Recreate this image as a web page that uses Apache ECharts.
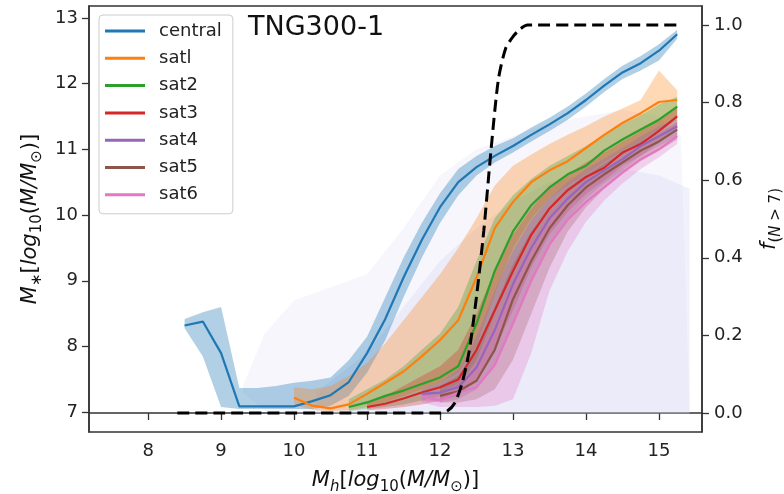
<!DOCTYPE html>
<html><head><meta charset="utf-8">
<script src="https://cdn.jsdelivr.net/npm/echarts@6/dist/echarts.min.js"></script>
<style>html,body{margin:0;padding:0;background:#fff}#c{width:784px;height:494px}</style>
</head><body><div id="c"></div>
<script>
// ---- data ----
const bins = [8.5, 8.75, 9.0, 9.25, 9.5, 9.75, 10.0, 10.25, 10.5, 10.75, 11.0, 11.25, 11.5, 11.75, 12.0, 12.25, 12.5, 12.75, 13.0, 13.25, 13.5, 13.75, 14.0, 14.25, 14.5, 14.75, 15.0, 15.25];

const central   = [8.32, 8.38, 7.9, 7.09, 7.09, 7.09, 7.09, 7.17, 7.26, 7.46, 7.9, 8.42, 9.05, 9.62, 10.12, 10.5, 10.73, 10.9, 11.05, 11.22, 11.38, 11.55, 11.75, 11.97, 12.17, 12.31, 12.5, 12.75];
const centralLo = [8.28, 7.85, 7.08, 7.05, 7.05, 7.05, 7.05, 7.05, 7.1, 7.25, 7.6, 8.1, 8.75, 9.35, 9.88, 10.3, 10.6, 10.8, 10.95, 11.12, 11.28, 11.45, 11.65, 11.87, 12.07, 12.2, 12.35, 12.68];
const centralHi = [8.42, 8.52, 8.6, 7.37, 7.37, 7.4, 7.45, 7.48, 7.53, 7.79, 8.15, 8.75, 9.35, 9.88, 10.33, 10.7, 10.9, 11.05, 11.17, 11.33, 11.48, 11.65, 11.85, 12.07, 12.27, 12.42, 12.6, 12.82];

const sat1   = [null, null, null, null, null, null, 7.22, 7.1, 7.06, 7.12, 7.28, 7.45, 7.62, 7.85, 8.1, 8.4, 9.05, 9.8, 10.2, 10.5, 10.68, 10.82, 11.02, 11.22, 11.4, 11.55, 11.72, 11.75];
const sat1Lo = [null, null, null, null, null, null, 7.12, 7.04, 7.02, 7.03, 7.08, 7.15, 7.25, 7.35, 7.45, 7.6, 8.0, 8.8, 9.5, 9.95, 10.25, 10.45, 10.62, 10.8, 10.98, 11.12, 11.3, 11.5];
const sat1Hi = [null, null, null, null, null, null, 7.38, 7.35, 7.4, 7.55, 7.75, 8.05, 8.4, 8.75, 9.1, 9.5, 9.95, 10.45, 10.75, 10.92, 11.08, 11.22, 11.35, 11.5, 11.62, 11.75, 12.2, 11.9];

const sat2   = [null, null, null, null, null, null, null, null, null, 7.08, 7.15, 7.25, 7.33, 7.43, 7.53, 7.7, 8.35, 9.15, 9.75, 10.15, 10.42, 10.62, 10.75, 10.98, 11.15, 11.3, 11.45, 11.65];
const sat2Lo = [null, null, null, null, null, null, null, null, null, 7.02, 7.05, 7.08, 7.12, 7.18, 7.25, 7.38, 7.8, 8.5, 9.2, 9.7, 10.08, 10.35, 10.55, 10.75, 10.92, 11.08, 11.25, 11.45];
const sat2Hi = [null, null, null, null, null, null, null, null, null, 7.2, 7.35, 7.5, 7.7, 7.95, 8.2, 8.6, 9.3, 9.95, 10.3, 10.55, 10.75, 10.9, 11.05, 11.22, 11.38, 11.52, 11.68, 11.8];

const sat3   = [null, null, null, null, null, null, null, null, null, null, 7.08, 7.13, 7.21, 7.3, 7.38, 7.5, 7.95, 8.55, 9.15, 9.7, 10.1, 10.38, 10.58, 10.72, 10.95, 11.08, 11.28, 11.5];
const sat3Lo = [null, null, null, null, null, null, null, null, null, null, 7.03, 7.05, 7.08, 7.12, 7.18, 7.25, 7.5, 7.95, 8.55, 9.2, 9.7, 10.05, 10.32, 10.52, 10.75, 10.9, 11.1, 11.3];
const sat3Hi = [null, null, null, null, null, null, null, null, null, null, 7.15, 7.25, 7.4, 7.55, 7.7, 7.95, 8.5, 9.15, 9.7, 10.1, 10.42, 10.62, 10.8, 10.95, 11.12, 11.28, 11.45, 11.65];

const sat4   = [null, null, null, null, null, null, null, null, null, null, null, null, null, 7.28, 7.3, 7.38, 7.68, 8.25, 8.95, 9.5, 9.95, 10.25, 10.5, 10.68, 10.85, 11.05, 11.2, 11.35];
const sat4Lo = [null, null, null, null, null, null, null, null, null, null, null, null, null, 7.18, 7.15, 7.2, 7.35, 7.75, 8.35, 9.0, 9.55, 9.95, 10.25, 10.48, 10.68, 10.9, 11.05, 11.2];
const sat4Hi = [null, null, null, null, null, null, null, null, null, null, null, null, null, 7.35, 7.45, 7.65, 8.15, 8.85, 9.45, 9.92, 10.25, 10.5, 10.7, 10.86, 11.02, 11.2, 11.35, 11.45];

const sat5   = [null, null, null, null, null, null, null, null, null, null, null, null, null, null, 7.25, 7.32, 7.48, 7.95, 8.72, 9.3, 9.8, 10.15, 10.42, 10.62, 10.8, 10.98, 11.12, 11.3];
const sat5Lo = [null, null, null, null, null, null, null, null, null, null, null, null, null, null, 7.15, 7.15, 7.2, 7.35, 7.8, 8.5, 9.2, 9.75, 10.12, 10.4, 10.62, 10.82, 10.98, 11.15];
const sat5Hi = [null, null, null, null, null, null, null, null, null, null, null, null, null, null, 7.4, 7.55, 7.95, 8.6, 9.25, 9.75, 10.1, 10.38, 10.6, 10.78, 10.95, 11.12, 11.25, 11.42];

const sat6   = [null, null, null, null, null, null, null, null, null, null, null, null, null, 7.24, 7.18, 7.3, 7.38, 7.72, 8.35, 9.0, 9.55, 9.93, 10.2, 10.42, 10.65, 10.85, 11.0, 11.2];
const sat6Lo = [null, null, null, null, null, null, null, null, null, null, null, null, null, 7.15, 7.08, 7.08, 7.08, 7.1, 7.2, 7.9, 8.85, 9.45, 9.9, 10.22, 10.48, 10.7, 10.88, 11.08];
const sat6Hi = [null, null, null, null, null, null, null, null, null, null, null, null, null, 7.3, 7.3, 7.45, 7.75, 8.35, 9.0, 9.55, 9.95, 10.2, 10.42, 10.62, 10.82, 11.0, 11.15, 11.3];

// background point cloud, outlined as an envelope
const cloudX  = [9.3, 9.6, 10.0, 10.5, 11.0, 11.5, 12.0, 12.5, 13.0, 13.5, 14.0, 14.5, 15.0, 15.3, 15.42];
const cloudLo = [7.3, 7.02, 6.98, 6.98, 6.98, 6.98, 6.98, 6.98, 6.98, 6.98, 6.98, 6.98, 6.98, 6.98, 6.98];
const cloudHi = [7.4, 8.2, 8.7, 8.9, 9.1, 9.8, 10.6, 11.0, 11.2, 11.4, 11.5, 11.6, 11.5, 11.2, 6.98];
const denseX  = [10.3, 11.0, 11.5, 12.0, 12.5, 13.0, 13.5, 14.0, 14.5, 15.0, 15.42];
const denseLo = [6.98, 6.98, 6.98, 6.98, 6.98, 6.98, 6.98, 6.98, 6.98, 6.98, 6.98];
const denseHi = [7.3, 7.9, 8.6, 9.3, 9.8, 10.2, 10.5, 10.6, 10.7, 10.6, 10.4];

// fraction f(N>7), right axis
const fX   = [8.4, 9.0, 10.0, 11.0, 12.0, 12.1, 12.2, 12.3, 12.4, 12.5, 12.6, 12.7, 12.8, 12.9, 13.0, 13.1, 13.2, 14.0, 15.3];
const fVal = [0, 0, 0, 0, 0, 0.005, 0.025, 0.075, 0.16, 0.3, 0.47, 0.68, 0.86, 0.94, 0.97, 0.99, 1.0, 1.0, 1.0];

const xTicks = [8, 9, 10, 11, 12, 13, 14, 15];
const yTicks = [7, 8, 9, 10, 11, 12, 13];
const fTicks = [0, 0.2, 0.4, 0.6, 0.8, 1.0];

const names  = ['central', 'satl', 'sat2', 'sat3', 'sat4', 'sat5', 'sat6'];
const colors = ['#1f77b4', '#ff7f0e', '#2ca02c', '#d62728', '#9467bd', '#8c564b', '#e377c2'];
const bandAlpha = [0.35, 0.3, 0.3, 0.3, 0.3, 0.3, 0.3];
const lines = [central, sat1, sat2, sat3, sat4, sat5, sat6];
const los   = [centralLo, sat1Lo, sat2Lo, sat3Lo, sat4Lo, sat5Lo, sat6Lo];
const his   = [centralHi, sat1Hi, sat2Hi, sat3Hi, sat4Hi, sat5Hi, sat6Hi];

// ---- chart ----
const FONT = 'DejaVu Sans';
function rgba(hex, a){const n=parseInt(hex.slice(1),16);return `rgba(${n>>16},${(n>>8)&255},${n&255},${a})`;}
function pairs(xs, ys){const o=[];xs.forEach((x,i)=>{if(ys[i]!=null)o.push([x,ys[i]]);});return o;}
function band(xs, lo, hi, fill, z){
  const idx = xs.map((x,i)=>i).filter(i=>lo[i]!=null&&hi[i]!=null);
  return {type:'custom', z, silent:true, clip:true, xAxisIndex:0, yAxisIndex:0,
    data: idx.map(i=>[xs[i], lo[i], hi[i]]), encode:{x:0, y:[1,2]},
    renderItem(params, api){
      if(params.dataIndex!==0) return null;
      const top = idx.map(i=>api.coord([xs[i], hi[i]]));
      const bot = idx.map(i=>api.coord([xs[i], lo[i]])).reverse();
      return {type:'polygon', shape:{points:top.concat(bot)}, style:{fill, stroke:null}};
    }};
}
const rich = {
  i:{fontFamily:FONT, fontSize:21, fontStyle:'italic', color:'#111', lineHeight:28, verticalAlign:'middle'},
  r:{fontFamily:FONT, fontSize:21, color:'#111', lineHeight:28, verticalAlign:'middle'},
  si:{fontFamily:FONT, fontSize:15, fontStyle:'italic', color:'#111', lineHeight:16, verticalAlign:'bottom'},
  sr:{fontFamily:FONT, fontSize:15, color:'#111', lineHeight:16, verticalAlign:'bottom'}
};
const axisCol = '#333';
const series = [];
series.push(band(cloudX, cloudLo, cloudHi, 'rgba(214,214,242,0.22)', 1));
series.push(band(denseX, denseLo, denseHi, 'rgba(210,210,242,0.3)', 1));
lines.forEach((ys, k)=>{ series.push(band(bins, los[k], his[k], rgba(colors[k], bandAlpha[k]), 2+k)); });
lines.forEach((ys, k)=>{
  series.push({type:'line', name:names[k], color:colors[k], z:20, data:pairs(bins, ys), showSymbol:false, symbol:'none',
    lineStyle:{color:colors[k], width:2.2}, itemStyle:{color:colors[k]}});
});
series.push({type:'line', name:'f', yAxisIndex:1, z:30, data:pairs(fX, fVal), showSymbol:false, symbol:'none', smooth:0.25,
  lineStyle:{color:'#000', width:3, type:[12,6]}});

const chart = echarts.init(document.getElementById('c'), null, {renderer:'canvas'});
chart.setOption({
  animation:false,
  backgroundColor:'#fff',
  grid:{left:89, right:82, top:6, bottom:62, containLabel:false, outerBoundsMode:'none', show:true, borderColor:axisCol, borderWidth:1.5, backgroundColor:'transparent'},
  title:{text:'TNG300-1', left:248, top:14, padding:0, textStyle:{fontFamily:FONT, fontSize:27, fontWeight:'normal', color:'#111'}},
  legend:{data:names.map(n=>({name:n, icon:'rect'})), orient:'vertical', left:99, top:15, itemWidth:40, itemHeight:3, itemGap:7.3,
    padding:[6,11,9,6], backgroundColor:'rgba(255,255,255,0.8)', borderColor:'#cccccc', borderWidth:1, borderRadius:4,
    selectedMode:false, textStyle:{fontFamily:FONT, fontSize:18, color:'#222', lineHeight:20, padding:[0,0,0,9]}},
  xAxis:{type:'value', min:7.19, max:15.59,
    name:'{i|M}{si|h}{r|[}{i|log}{sr|10}{r|(}{i|M/M}{sr|⊙}{r|)]}', nameLocation:'middle', nameGap:35,
    nameTextStyle:{rich},
    axisLine:{show:true, lineStyle:{color:axisCol, width:1.5}},
    axisTick:{show:true, length:7, lineStyle:{color:axisCol, width:1.3}, customValues:xTicks},
    axisLabel:{fontFamily:FONT, fontSize:18, color:'#222', margin:10, customValues:xTicks},
    splitLine:{show:false}},
  yAxis:[
    {type:'value', min:6.70, max:13.18, position:'left',
      name:'{i|M}{sr|∗}{r|[}{i|log}{sr|10}{r|(}{i|M/M}{sr|⊙}{r|)]}', nameLocation:'middle', nameRotate:90, nameGap:44,
      nameTextStyle:{rich},
      axisLine:{show:true, lineStyle:{color:axisCol, width:1.5}},
      axisTick:{show:true, length:7, lineStyle:{color:axisCol, width:1.3}, customValues:yTicks},
      axisLabel:{fontFamily:FONT, fontSize:18, color:'#222', margin:11, customValues:yTicks},
      splitLine:{show:false}},
    {type:'value', min:-0.049, max:1.049, position:'right',
      name:'{i|f}{sr|(}{si|N}{sr| > 7)}', nameLocation:'middle', nameRotate:90, nameGap:54,
      nameTextStyle:{rich},
      axisLine:{show:true, lineStyle:{color:axisCol, width:1.5}},
      axisTick:{show:true, length:7, lineStyle:{color:axisCol, width:1.3}, customValues:fTicks},
      axisLabel:{fontFamily:FONT, fontSize:18, color:'#222', margin:12, customValues:fTicks, formatter:v=>Number(v).toFixed(1)},
      splitLine:{show:false}}
  ],
  series
});
</script></body></html>
